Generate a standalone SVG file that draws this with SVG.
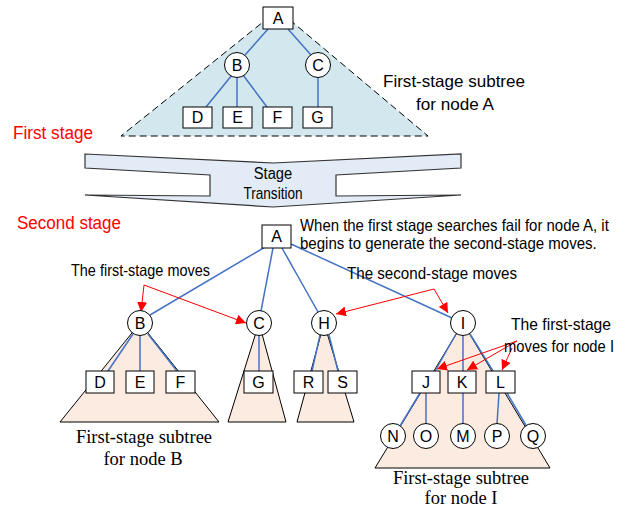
<svg xmlns="http://www.w3.org/2000/svg" width="626" height="511" viewBox="0 0 626 511">
  <defs>
    <style>
      .box { fill: #ffffff; stroke: #000000; stroke-width: 1; }
      .circ { fill: #ffffff; stroke: #000000; stroke-width: 1; }
      .lbl { font-family: "Liberation Sans", Arial, sans-serif; font-size: 16px; fill: #000000; text-anchor: middle; }
      .txt { font-family: "Liberation Sans", Arial, sans-serif; font-size: 16.5px; fill: #000000; }
      .red { font-family: "Liberation Sans", Arial, sans-serif; font-size: 18px; fill: #ff0000; }
      .serif { font-family: "Liberation Serif", "Times New Roman", serif; font-size: 18.5px; fill: #000000; text-anchor: middle; }
      .edge { stroke: #4472c4; stroke-width: 1.5; fill: none; }
      .tri { fill: #fcebe0; stroke: #000000; stroke-width: 1; }
      .move { stroke: #ff0000; stroke-width: 1; fill: none; marker-end: url(#ah); }
    </style>
    <marker id="ah" viewBox="0 0 10 10" refX="10" refY="5" markerWidth="10" markerHeight="10" markerUnits="userSpaceOnUse" orient="auto">
      <path d="M0,0 L10,5 L0,10 z" fill="#ff0000"/>
    </marker>
  </defs>

  <!-- first stage: shaded subtree of A -->
  <polygon points="278,10 121,136 428,136" fill="#d2e8ee" stroke="#000000" stroke-width="1" stroke-dasharray="7,4"/>

  <!-- subtree triangles of the second stage -->
  <g id="subtrees">
    <polygon class="tri" points="140,323 60,422 219,422"/>
    <polygon class="tri" points="259,323 228,422 286,422"/>
    <polygon class="tri" points="324,323 297,422 354,422"/>
    <polygon class="tri" points="463,323 375,468 550,468"/>
  </g>

  <!-- stage transition band -->
  <g id="transition">
    <polygon points="85,154 273,163 461,154 461,168 336,175 336,196 461,195 273,207 85,195 210,196 210,175 85,168" fill="#e3ebf6" stroke="#333333" stroke-width="1.2" stroke-linejoin="miter"/>
    <g transform="translate(273,179) scale(0.92,1)">
      <text class="lbl" x="0" y="0" font-size="17">Stage</text>
    </g>
    <g transform="translate(273,199) scale(0.85,1)">
      <text class="lbl" x="0" y="0" font-size="17">Transition</text>
    </g>
  </g>

  <!-- connectors -->
  <g id="connectors">
    <!-- first-stage tree -->
    <line class="edge" x1="268" y1="29" x2="245" y2="55"/>
    <line class="edge" x1="288" y1="29" x2="311" y2="55"/>
    <line class="edge" x1="232" y1="75" x2="206" y2="107"/>
    <line class="edge" x1="237" y1="78" x2="237" y2="107"/>
    <line class="edge" x1="243" y1="75" x2="267" y2="107"/>
    <line class="edge" x1="318" y1="78" x2="318" y2="107"/>
    <!-- second-stage tree -->
    <line class="edge" x1="265" y1="247" x2="150" y2="315"/>
    <line class="edge" x1="273" y1="248" x2="261" y2="311"/>
    <line class="edge" x1="282" y1="248" x2="318" y2="312"/>
    <line class="edge" x1="291" y1="244" x2="452" y2="318"/>
    <line class="edge" x1="133" y1="334" x2="108" y2="371"/>
    <line class="edge" x1="140" y1="336" x2="140" y2="371"/>
    <line class="edge" x1="148" y1="334" x2="177" y2="371"/>
    <line class="edge" x1="259" y1="336" x2="259" y2="371"/>
    <line class="edge" x1="320" y1="335" x2="312" y2="371"/>
    <line class="edge" x1="329" y1="335" x2="338" y2="371"/>
    <line class="edge" x1="456" y1="334" x2="435" y2="371"/>
    <line class="edge" x1="463" y1="336" x2="463" y2="371"/>
    <line class="edge" x1="470" y1="334" x2="493" y2="371"/>
    <line class="edge" x1="420" y1="393" x2="400" y2="426"/>
    <line class="edge" x1="426" y1="393" x2="426" y2="424"/>
    <line class="edge" x1="463" y1="393" x2="463" y2="424"/>
    <line class="edge" x1="499" y1="393" x2="497" y2="424"/>
    <line class="edge" x1="507" y1="393" x2="527" y2="427"/>
    <!-- move annotations -->
    <path class="move" d="M144,285 L141,312"/>
    <path class="move" d="M144,285 L246,323"/>
    <path class="move" d="M434,289 L336,314"/>
    <path class="move" d="M434,289 L448,313"/>
    <path class="move" d="M517,341 L437,369"/>
    <path class="move" d="M517,341 L467,370"/>
    <path class="move" d="M512,348 L502,370"/>
  </g>

  <!-- first-stage nodes -->
  <g id="top-A"><rect class="box" x="263" y="7" width="30" height="22"/><text class="lbl" x="278" y="24">A</text></g>
  <g id="top-B"><circle class="circ" cx="237" cy="65" r="12.5"/><text class="lbl" x="237" y="71">B</text></g>
  <g id="top-C"><circle class="circ" cx="318" cy="65" r="12.5"/><text class="lbl" x="318" y="71">C</text></g>
  <g id="top-D"><rect class="box" x="183" y="107" width="29" height="21"/><text class="lbl" x="197.5" y="123">D</text></g>
  <g id="top-E"><rect class="box" x="223" y="107" width="29" height="21"/><text class="lbl" x="237.5" y="123">E</text></g>
  <g id="top-F"><rect class="box" x="263" y="107" width="29" height="21"/><text class="lbl" x="277.5" y="123">F</text></g>
  <g id="top-G"><rect class="box" x="303" y="107" width="29" height="21"/><text class="lbl" x="317.5" y="123">G</text></g>

  <!-- second-stage nodes -->
  <g id="A"><rect class="box" x="262" y="225" width="29" height="23"/><text class="lbl" x="276.5" y="242">A</text></g>
  <g id="B"><circle class="circ" cx="140" cy="323" r="12.5"/><text class="lbl" x="140" y="329">B</text></g>
  <g id="C"><circle class="circ" cx="259" cy="323" r="12.5"/><text class="lbl" x="259" y="329">C</text></g>
  <g id="H"><circle class="circ" cx="324" cy="323" r="12.5"/><text class="lbl" x="324" y="329">H</text></g>
  <g id="I"><circle class="circ" cx="463" cy="323" r="12.5"/><text class="lbl" x="463" y="329">I</text></g>
  <g id="D"><rect class="box" x="86" y="371" width="28" height="22"/><text class="lbl" x="100" y="388">D</text></g>
  <g id="E"><rect class="box" x="126" y="371" width="28" height="22"/><text class="lbl" x="140" y="388">E</text></g>
  <g id="F"><rect class="box" x="166" y="371" width="29" height="22"/><text class="lbl" x="180.5" y="388">F</text></g>
  <g id="G"><rect class="box" x="244" y="371" width="29" height="22"/><text class="lbl" x="258.5" y="388">G</text></g>
  <g id="R"><rect class="box" x="294" y="371" width="29" height="22"/><text class="lbl" x="308.5" y="388">R</text></g>
  <g id="S"><rect class="box" x="328" y="371" width="29" height="22"/><text class="lbl" x="342.5" y="388">S</text></g>
  <g id="J"><rect class="box" x="412" y="371" width="28" height="22"/><text class="lbl" x="426" y="388">J</text></g>
  <g id="K"><rect class="box" x="448" y="371" width="28" height="22"/><text class="lbl" x="462" y="388">K</text></g>
  <g id="L"><rect class="box" x="486" y="371" width="29" height="22"/><text class="lbl" x="500.5" y="388">L</text></g>
  <g id="N"><circle class="circ" cx="393" cy="436" r="12.5"/><text class="lbl" x="393" y="442">N</text></g>
  <g id="O"><circle class="circ" cx="426" cy="436" r="12.5"/><text class="lbl" x="426" y="442">O</text></g>
  <g id="M"><circle class="circ" cx="463" cy="436" r="12.5"/><text class="lbl" x="463" y="442">M</text></g>
  <g id="P"><circle class="circ" cx="497" cy="436" r="12.5"/><text class="lbl" x="497" y="442">P</text></g>
  <g id="Q"><circle class="circ" cx="533" cy="436" r="12.5"/><text class="lbl" x="533" y="442">Q</text></g>

  <!-- captions -->
  <g id="captions">
    <text class="txt" x="383" y="87" textLength="142" lengthAdjust="spacingAndGlyphs">First-stage subtree</text>
    <text class="txt" x="416" y="110" textLength="78" lengthAdjust="spacingAndGlyphs">for node A</text>
    <text class="red" x="13" y="139" textLength="80" lengthAdjust="spacingAndGlyphs">First stage</text>
    <text class="red" x="17" y="229" textLength="104" lengthAdjust="spacingAndGlyphs">Second stage</text>
    <g transform="translate(300,231) scale(0.8,1)">
      <text class="txt" x="0" y="0" textLength="386" lengthAdjust="spacingAndGlyphs">When the first stage searches fail for node A, it</text>
    </g>
    <g transform="translate(300,249) scale(0.8,1)">
      <text class="txt" x="0" y="0" textLength="371" lengthAdjust="spacingAndGlyphs">begins to generate the second-stage moves.</text>
    </g>
    <text class="txt" x="71" y="276" textLength="139" lengthAdjust="spacingAndGlyphs">The first-stage moves</text>
    <text class="txt" x="347" y="279" textLength="170" lengthAdjust="spacingAndGlyphs">The second-stage moves</text>
    <text class="txt" x="511" y="330" textLength="100" lengthAdjust="spacingAndGlyphs">The first-stage</text>
    <text class="txt" x="504" y="352" textLength="110" lengthAdjust="spacingAndGlyphs">moves for node I</text>
    <text class="serif" x="144" y="443">First-stage subtree</text>
    <text class="serif" x="143" y="465">for node B</text>
    <text class="serif" x="461" y="484">First-stage subtree</text>
    <text class="serif" x="461" y="504">for node I</text>
  </g>
</svg>
